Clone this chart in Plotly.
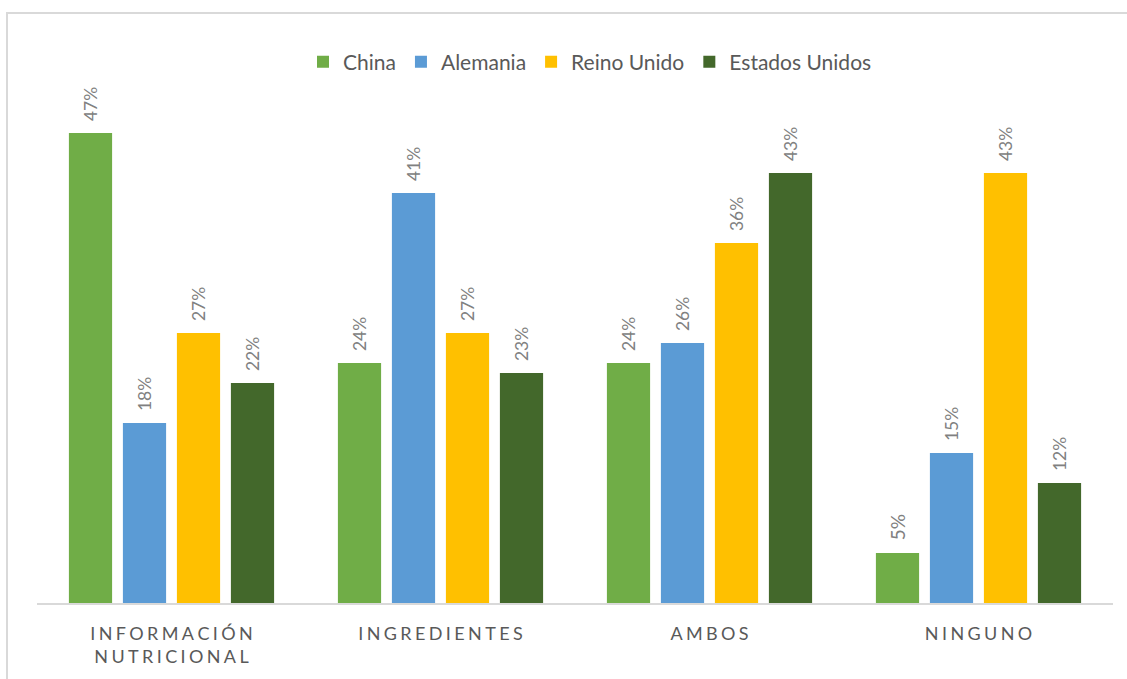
import plotly.graph_objects as go

categories = ["INFORMACIÓN NUTRICIONAL", "INGREDIENTES", "AMBOS", "NINGUNO"]
series_names = ["China", "Alemania", "Reino Unido", "Estados Unidos"]
china = [0.47, 0.24, 0.24, 0.05]
alemania = [0.18, 0.41, 0.26, 0.15]
reino_unido = [0.27, 0.27, 0.36, 0.43]
estados_unidos = [0.22, 0.23, 0.43, 0.12]

colors = ["#70AD47", "#5B9BD5", "#FFC000", "#43682B"]
values = [china, alemania, reino_unido, estados_unidos]

FONT = "Lato"
GAP = "\u2009\u200a"


def spaced(label):
    # widen the letter spacing of the category labels
    lines = label.split(" ") if label == "INFORMACIÓN NUTRICIONAL" else [label]
    return "<br>".join(GAP.join(list(line)) for line in lines)


tick_text = [spaced(c) for c in categories]

fig = go.Figure()
for name, vals, col in zip(series_names, values, colors):
    fig.add_trace(go.Bar(
        x=categories,
        y=vals,
        name=name,
        marker=dict(color=col, line=dict(width=0)),
        text=[f"\u00a0\u00a0{round(v * 100)}%" for v in vals],
        textposition="outside",
        textangle=-90,
        textfont=dict(family=FONT, size=19, color="#808080"),
        cliponaxis=False,
    ))

W, H = 1127, 679
L, R, T, B = 37, 14, 103, 76
pw = W - L - R
ph = H - T - B

fig.update_layout(
    width=W,
    height=H,
    margin=dict(l=L, r=R, t=T, b=B),
    paper_bgcolor="white",
    plot_bgcolor="white",
    barmode="group",
    bargap=0.197,
    bargroupgap=0.2,
    font=dict(family=FONT, color="#595959"),
    showlegend=True,
    legend=dict(
        orientation="h",
        x=(590 - L) / pw,
        xanchor="center",
        y=(H - B - 62) / ph,
        yanchor="middle",
        font=dict(family=FONT, size=21, color="#595959"),
        itemwidth=30,
        tracegroupgap=0,
    ),
    xaxis=dict(
        tickmode="array",
        tickvals=categories,
        ticktext=tick_text,
        tickfont=dict(family=FONT, size=18, color="#595959"),
        showline=True,
        linecolor="#D9D9D9",
        linewidth=2,
        showgrid=False,
        ticks="",
        ticklabelstandoff=13,
        fixedrange=True,
    ),
    yaxis=dict(
        range=[0, 0.5],
        visible=False,
        showgrid=False,
        zeroline=False,
        fixedrange=True,
    ),
    shapes=[
        dict(
            type="rect",
            xref="paper",
            yref="paper",
            x0=(7 - L) / pw,
            x1=(W + 5 - L) / pw,
            y0=-(B + 10) / ph,
            y1=(H - B - 13) / ph,
            line=dict(color="#D9D9D9", width=2),
            fillcolor="rgba(0,0,0,0)",
            layer="below",
        )
    ],
)

fig.write_html("out.html")
